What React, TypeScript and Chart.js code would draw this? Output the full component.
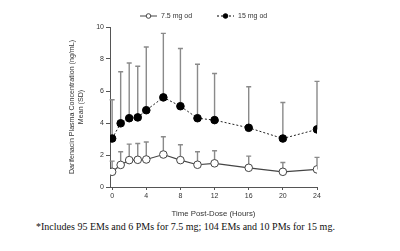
import React, { useEffect, useRef } from "react";
import { Chart, registerables } from "chart.js";

Chart.register(...registerables);

const times = [0, 1, 2, 3, 4, 6, 8, 10, 12, 16, 20, 24];
const mean75 = [0.95, 1.38, 1.68, 1.7, 1.72, 2.03, 1.68, 1.39, 1.48, 1.2, 0.95, 1.1];
const upper75 = [1.62, 2.2, 2.68, 2.72, 2.81, 3.14, 2.64, 2.2, 2.27, 1.93, 1.53, 1.85];
const mean15 = [3.03, 3.98, 4.3, 4.35, 4.8, 5.6, 5.05, 4.3, 4.18, 3.7, 3.03, 3.6];
const upper15 = [5.45, 7.2, 7.75, 7.55, 8.75, 9.6, 8.66, 7.67, 7.09, 6.27, 5.28, 6.6];
const xTicks = [0, 4, 8, 12, 16, 20, 24];
const yTicks = [0, 2, 4, 6, 8, 10];
const seriesLabels = ["7.5 mg od", "15 mg od"];
const xTitle = "Time Post-Dose (Hours)";
const yTitle = ["Darifenacin Plasma Concentration (ng/mL)", "Mean (SD)"];
const footnote = "*Includes 95 EMs and 6 PMs for 7.5 mg; 104 EMs and 10 PMs for 15 mg.";

const sans = "'Liberation Sans', Arial, sans-serif";

const errorBars = {
  id: "errorBars",
  beforeDatasetsDraw(chart: any) {
    const ctx = chart.ctx;
    const ys = chart.scales.y;
    const uppers = [upper75, upper15];
    ctx.save();
    ctx.strokeStyle = "#8a8a8a";
    ctx.lineWidth = 1.4;
    chart.data.datasets.forEach((ds: any, i: number) => {
      const meta = chart.getDatasetMeta(i);
      meta.data.forEach((pt: any, j: number) => {
        const x = pt.x;
        const y0 = pt.y;
        const y1 = ys.getPixelForValue(uppers[i][j]);
        ctx.beginPath();
        ctx.moveTo(x, y0);
        ctx.lineTo(x, y1);
        ctx.moveTo(x - 2.5, y1);
        ctx.lineTo(x + 2.5, y1);
        ctx.stroke();
      });
    });
    ctx.restore();
  },
};

const customLegend = {
  id: "customLegend",
  afterDraw(chart: any) {
    const ctx = chart.ctx;
    const a = chart.chartArea;
    const y = a.top - 11;
    const items = [
      { x: a.left + 30, dash: [], fill: "#fff", stroke: "#444" },
      { x: a.left + 107, dash: [2, 2], fill: "#000", stroke: "#000" },
    ];
    ctx.save();
    items.forEach((it, i) => {
      ctx.strokeStyle = it.stroke;
      ctx.lineWidth = 1;
      ctx.setLineDash(it.dash);
      ctx.beginPath();
      ctx.moveTo(it.x, y);
      ctx.lineTo(it.x + 17, y);
      ctx.stroke();
      ctx.setLineDash([]);
      ctx.beginPath();
      ctx.arc(it.x + 8.5, y, 2.3, 0, Math.PI * 2);
      ctx.fillStyle = it.fill;
      ctx.fill();
      ctx.stroke();
      ctx.fillStyle = "#333";
      ctx.font = `7px ${sans}`;
      ctx.textBaseline = "middle";
      ctx.textAlign = "left";
      ctx.fillText(seriesLabels[i], it.x + 21, y + 0.5);
    });
    ctx.restore();
  },
};

export default function App() {
  const ref = useRef<HTMLCanvasElement>(null);
  useEffect(() => {
    if (!ref.current) return;
    const chart = new Chart(ref.current, {
      type: "line",
      data: {
        labels: times,
        datasets: [
          {
            label: seriesLabels[0],
            data: times.map((t, i) => ({ x: t, y: mean75[i] })),
            borderColor: "#444",
            borderWidth: 1.2,
            pointRadius: 3.8,
            pointBackgroundColor: "#fff",
            pointBorderColor: "#444",
            pointBorderWidth: 1,
          },
          {
            label: seriesLabels[1],
            data: times.map((t, i) => ({ x: t, y: mean15[i] })),
            borderColor: "#222",
            borderWidth: 1,
            borderDash: [2, 2],
            pointRadius: 3.8,
            pointBackgroundColor: "#000",
            pointBorderColor: "#000",
            pointBorderWidth: 1,
          },
        ],
      },
      options: {
        responsive: false,
        animation: false,
        layout: { padding: { left: 0, right: 83, top: 27, bottom: 0 } },
        plugins: { legend: { display: false }, tooltip: { enabled: false } },
        scales: {
          x: {
            type: "linear",
            min: -0.25,
            max: 24,
            afterBuildTicks: (s: any) => {
              s.ticks = xTicks.map((v) => ({ value: v }));
            },
            afterFit: (s: any) => {
              s.height = 33;
            },
            grid: { drawOnChartArea: false, drawTicks: true, tickLength: 3, color: "#555" },
            border: { color: "#555", width: 1 },
            ticks: { color: "#333", font: { family: sans, size: 7 }, padding: 2, maxRotation: 0 },
            title: {
              display: true,
              text: xTitle,
              color: "#333",
              font: { family: sans, size: 7.8 },
              padding: { top: 0, bottom: 1 },
            },
          },
          y: {
            min: 0,
            max: 10,
            afterBuildTicks: (s: any) => {
              s.ticks = yTicks.map((v) => ({ value: v }));
            },
            afterFit: (s: any) => {
              s.width = 110;
            },
            grid: { drawOnChartArea: false, drawTicks: true, tickLength: 4, color: "#555" },
            border: { color: "#555", width: 1 },
            ticks: { color: "#333", font: { family: sans, size: 7 }, padding: 2 },
            title: {
              display: true,
              text: yTitle,
              color: "#333",
              font: { family: sans, size: 7.1, lineHeight: 1.35 },
              padding: { top: 67, bottom: 0 },
            },
          },
        },
      },
      plugins: [errorBars, customLegend],
    });
    return () => chart.destroy();
  }, []);
  return (
    <div style={{ position: "absolute", left: 0, top: 0, width: 400, height: 251, background: "#fff" }}>
      <canvas ref={ref} width={400} height={220} style={{ display: "block", width: 400, height: 220 }} />
      <div
        style={{
          position: "absolute",
          left: 36,
          top: 221,
          fontFamily: "'Liberation Serif', 'Times New Roman', serif",
          fontSize: 10,
          color: "#111",
          whiteSpace: "nowrap",
        }}
      >
        {footnote}
      </div>
    </div>
  );
}
